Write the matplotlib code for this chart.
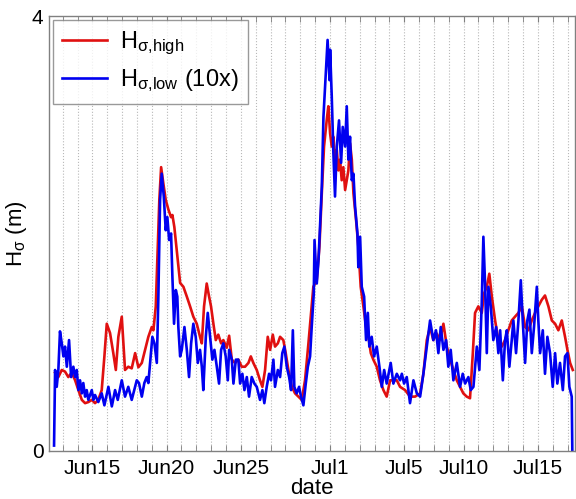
import matplotlib
matplotlib.use("Agg")
import matplotlib.pyplot as plt
import numpy as np

plt.rcParams['font.family'] = ['Liberation Sans', 'DejaVu Sans']
plt.rcParams['mathtext.fontset'] = 'custom'
plt.rcParams['mathtext.rm'] = 'Liberation Sans'
plt.rcParams['mathtext.it'] = 'Liberation Sans'

# time in days of June (Jul 1 = day 31)
t_high = [12.49, 12.71, 12.94, 13.16, 13.38, 13.61, 13.84, 14.06, 14.29, 14.51,
          14.73, 14.96, 15.18, 15.40, 15.63, 15.81, 15.97, 16.19, 16.41, 16.58,
          16.75, 16.98, 17.20, 17.42, 17.65, 17.88, 18.10, 18.33, 18.55, 18.77,
          19.00, 19.11, 19.27, 19.40, 19.51, 19.63, 19.78, 19.94, 20.12, 20.30,
          20.39, 20.52, 20.68, 20.91, 21.13, 21.36, 21.58, 21.80, 22.03, 22.25,
          22.37, 22.52, 22.70, 22.86, 22.99, 23.15, 23.31, 23.48, 23.67, 23.82,
          24.05, 24.21, 24.39, 24.61, 24.83, 25.06, 25.28, 25.51, 25.67, 25.84,
          26.07, 26.29, 26.45, 26.63, 26.81, 26.97, 27.15, 27.30, 27.49, 27.64,
          27.86, 28.02, 28.20, 28.43, 28.65, 28.87, 29.10, 29.32, 29.55, 29.73,
          29.88, 30.11, 30.29, 30.45, 30.60, 30.78, 30.89, 31.01, 31.12, 31.23,
          31.34, 31.46, 31.57, 31.68, 31.79, 31.90, 32.02, 32.13, 32.24, 32.35,
          32.47, 32.58, 32.76, 32.91, 33.07, 33.25, 33.43, 33.59, 33.75, 33.92,
          34.15, 34.37, 34.60, 34.82, 35.05, 35.27, 35.50, 35.72, 36.06, 36.39,
          36.73, 37.07, 37.29, 37.52, 37.74, 37.96, 38.19, 38.41, 38.64, 38.87,
          39.09, 39.31, 39.54, 39.76, 39.98, 40.21, 40.43, 40.62, 40.77, 40.99,
          41.22, 41.38, 41.56, 41.73, 41.90, 42.12, 42.34, 42.57, 42.79, 43.01,
          43.24, 43.46, 43.69, 43.92, 44.14, 44.36, 44.59, 44.81, 45.03, 45.26,
          45.48, 45.71, 45.94, 46.16, 46.38, 46.61, 46.83, 46.99, 47.17, 47.35]
h_high = [0.72, 0.68, 0.745, 0.73, 0.68, 0.72, 0.65, 0.56, 0.47, 0.44,
          0.45, 0.47, 0.44, 0.47, 0.56, 0.87, 1.17, 1.085, 0.90, 0.745,
          1.05, 1.235, 0.745, 0.775, 0.76, 0.90, 0.77, 0.81, 0.93, 1.05,
          1.14, 1.11, 1.33, 1.85, 2.31, 2.61, 2.46, 2.31, 2.22, 2.15,
          2.17, 2.06, 1.85, 1.545, 1.51, 1.42, 1.33, 1.235, 1.17, 1.05,
          0.99, 1.33, 1.54, 1.42, 1.33, 1.17, 1.02, 1.07, 0.99, 1.02,
          0.95, 1.06, 0.84, 0.81, 0.84, 0.775, 0.775, 0.81, 0.87, 0.81,
          0.745, 0.65, 0.59, 0.745, 1.05, 0.93, 1.07, 0.96, 0.99, 1.05,
          1.02, 0.90, 0.745, 0.59, 0.53, 0.50, 0.47, 0.65, 0.99, 1.27,
          1.51, 1.57, 1.88, 2.37, 2.80, 3.04, 3.17, 2.92, 2.80, 2.89,
          2.68, 2.77, 2.58, 2.68, 2.49, 2.61, 2.40, 2.49, 2.58, 2.83,
          2.68, 2.37, 2.12, 1.88, 1.51, 1.33, 1.14, 1.05, 0.90, 0.84,
          0.775, 0.65, 0.56, 0.50, 0.65, 0.65, 0.65, 0.59, 0.56, 0.50,
          0.50, 0.53, 0.71, 1.02, 1.14, 1.02, 1.08, 1.02, 1.17, 0.96,
          0.84, 0.745, 0.65, 0.59, 0.53, 0.50, 0.485, 0.90, 1.27, 1.33,
          1.27, 1.45, 1.51, 1.63, 1.42, 1.20, 1.02, 0.96, 1.02, 1.11,
          1.20, 1.235, 1.27, 1.33, 1.14, 1.11, 1.20, 1.27, 1.33, 1.39,
          1.43, 1.33, 1.20, 1.17, 1.11, 1.20, 1.05, 0.93, 0.81, 0.745]

t_low = [12.42, 12.49, 12.60, 12.71, 12.82, 12.94, 13.05, 13.16, 13.28, 13.43,
         13.57, 13.72, 13.84, 13.95, 14.06, 14.17, 14.29, 14.39, 14.51, 14.62,
         14.73, 14.96, 15.07, 15.18, 15.40, 15.63, 15.81, 16.08, 16.31, 16.53,
         16.71, 16.98, 17.20, 17.42, 17.65, 17.99, 18.14, 18.33, 18.50, 18.66,
         18.77, 18.89, 19.04, 19.18, 19.34, 19.44, 19.56, 19.67, 19.81, 19.94,
         20.05, 20.17, 20.30, 20.39, 20.50, 20.62, 20.72, 20.79, 20.91, 21.02,
         21.20, 21.36, 21.51, 21.65, 21.80, 21.96, 22.10, 22.25, 22.37, 22.47,
         22.64, 22.77, 22.93, 23.08, 23.22, 23.38, 23.53, 23.67, 23.82, 23.98,
         24.12, 24.21, 24.39, 24.50, 24.66, 24.83, 24.95, 25.10, 25.24, 25.40,
         25.55, 25.73, 25.91, 26.07, 26.18, 26.29, 26.45, 26.58, 26.74, 26.90,
         27.03, 27.19, 27.30, 27.49, 27.64, 27.79, 27.93, 28.09, 28.25, 28.38,
         28.50, 28.60, 28.76, 28.92, 29.05, 29.21, 29.37, 29.51, 29.66, 29.77,
         29.91, 29.96, 30.11, 30.23, 30.45, 30.56, 30.84, 30.97, 31.01, 31.12,
         31.23, 31.34, 31.46, 31.61, 31.75, 31.86, 32.02, 32.13, 32.24, 32.35,
         32.47, 32.58, 32.69, 32.85, 32.91, 33.03, 33.14, 33.30, 33.43, 33.55,
         33.65, 33.81, 33.97, 34.15, 34.33, 34.49, 34.65, 34.82, 35.09, 35.27,
         35.50, 35.72, 35.84, 35.99, 36.17, 36.39, 36.62, 36.85, 37.07, 37.29,
         37.52, 37.74, 37.96, 38.14, 38.30, 38.46, 38.64, 38.82, 38.97, 39.13,
         39.31, 39.54, 39.76, 39.94, 40.10, 40.32, 40.48, 40.66, 40.89, 41.06,
         41.22, 41.33, 41.45, 41.56, 41.67, 41.83, 42.00, 42.19, 42.34, 42.46,
         42.64, 42.79, 42.91, 43.08, 43.24, 43.35, 43.53, 43.69, 43.85, 43.98,
         44.14, 44.29, 44.43, 44.59, 44.74, 44.93, 45.03, 45.15, 45.33, 45.48,
         45.64, 45.82, 46.00, 46.16, 46.31, 46.49, 46.68, 46.83, 46.99, 47.12,
         47.28, 47.32]
h_low = [0.05, 0.745, 0.59, 0.745, 1.10, 0.99, 0.87, 0.96, 0.775, 1.02,
         0.68, 0.775, 0.68, 0.745, 0.56, 0.65, 0.53, 0.625, 0.50, 0.56,
         0.47, 0.56, 0.47, 0.515, 0.45, 0.53, 0.42, 0.59, 0.41, 0.56,
         0.47, 0.65, 0.50, 0.59, 0.47, 0.65, 0.625, 0.50, 0.625, 0.68,
         0.625, 0.81, 1.05, 0.99, 0.81, 1.39, 2.31, 2.55, 2.34, 2.03,
         2.15, 1.94, 2.00, 1.60, 1.17, 1.48, 1.42, 1.14, 0.87, 0.93,
         1.14, 0.93, 0.68, 0.99, 1.17, 1.05, 0.81, 0.93, 0.775, 0.56,
         1.05, 1.27, 1.05, 0.84, 0.93, 0.775, 0.62, 0.93, 0.99, 0.87,
         0.65, 0.93, 0.84, 0.62, 0.84, 0.84, 0.62, 0.71, 0.56, 0.68,
         0.50, 0.68, 0.62, 0.59, 0.53, 0.47, 0.56, 0.44, 0.59, 0.71,
         0.65, 0.84, 0.59, 0.745, 0.68, 0.90, 0.96, 0.775, 0.68, 0.56,
         1.11, 0.59, 0.53, 0.59, 0.50, 0.42, 0.62, 0.775, 0.87, 1.14,
         1.45, 1.94, 1.54, 1.76, 2.43, 3.07, 3.78, 3.41, 3.69, 3.26,
         2.74, 2.34, 2.80, 3.04, 2.65, 2.98, 2.80, 3.17, 2.68, 2.89,
         2.49, 2.55, 2.25, 2.00, 1.69, 1.97, 1.51, 1.42, 1.02, 1.27,
         0.96, 1.05, 0.87, 0.96, 0.775, 0.59, 0.745, 0.62, 0.81, 0.62,
         0.71, 0.65, 0.71, 0.62, 0.68, 0.44, 0.65, 0.53, 0.50, 0.71,
         0.96, 1.20, 1.02, 1.11, 0.90, 1.14, 0.93, 1.02, 0.775, 0.93,
         0.65, 0.81, 0.59, 0.71, 0.62, 0.68, 0.56, 0.59, 0.96, 0.745,
         1.36, 1.97, 1.51, 0.90, 1.51, 1.33, 1.02, 1.14, 0.90, 1.11,
         0.65, 1.02, 1.11, 0.775, 1.02, 1.20, 0.90, 1.20, 1.57, 1.20,
         0.81, 1.20, 1.30, 0.90, 1.14, 1.51, 1.20, 0.90, 1.11, 0.71,
         1.05, 0.90, 0.59, 0.90, 0.62, 0.81, 0.56, 0.87, 0.90, 0.59,
         0.50, 0.0]

tick_days = [15, 20, 25, 31, 36, 40, 45]
tick_labels = ['Jun15', 'Jun20', 'Jun25', 'Jul1', 'Jul5', 'Jul10', 'Jul15']

fig = plt.figure(figsize=(5.76, 4.99), dpi=100)
ax = fig.add_axes([49/576, 48/499, 526/576, 435/499])

# daily dotted grid
days = np.arange(13, 48)
for d in days:
    ax.axvline(d, color='#b8b8b8', linestyle=':', linewidth=0.8, zorder=0)

ax.plot(t_high, h_high, color='#e01010', linewidth=1.9,
        label=r'$\mathrm{H}_{\mathrm{σ{,}high}}$')
ax.plot(t_low, h_low, color='#0000f0', linewidth=1.9,
        label=r'$\mathrm{H}_{\mathrm{σ{,}low}}$ (10x)')

ax.set_xlim(12.08, 47.5)
ax.set_ylim(0, 4)
ax.set_xticks(tick_days)
ax.set_xticklabels(tick_labels, fontsize=15)
ax.set_xticks(days, minor=True)
ax.set_yticks([0, 4])
ax.set_yticklabels(['0', '4'], fontsize=15)
ax.tick_params(axis='x', which='both', direction='in', top=True, length=4,
               color='#808080', pad=6)
ax.tick_params(axis='y', direction='in', right=False, length=0, pad=4)
for s in ax.spines.values():
    s.set_color('#808080')
    s.set_linewidth(1.0)

ax.set_xlabel('date', fontsize=16, labelpad=0)
ax.set_ylabel(r'$\mathrm{H}_{\mathrm{σ}}$ (m)', fontsize=16, labelpad=2)

leg = ax.legend(loc='upper left', bbox_to_anchor=(4/526, 1 - 4/435),
                borderaxespad=0, fontsize=17, frameon=True, fancybox=False,
                handlelength=1.9, handletextpad=0.55, labelspacing=0.45,
                borderpad=0.4)
leg.get_frame().set_edgecolor('#808080')
leg.get_frame().set_linewidth(1.0)

fig.savefig('out.png', dpi=100, facecolor='white')
